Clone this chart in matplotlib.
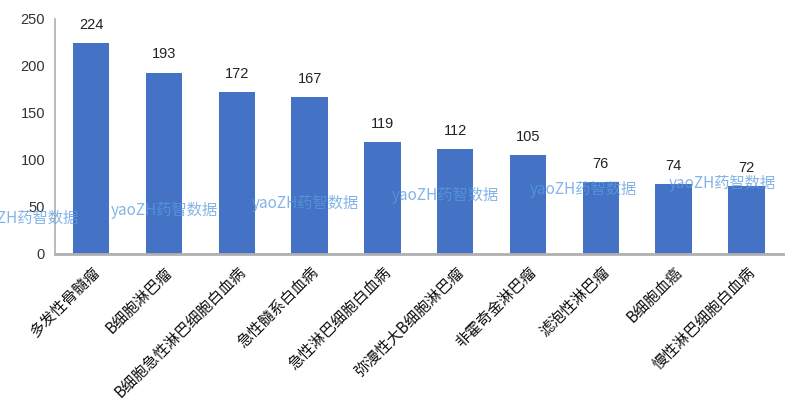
import matplotlib.pyplot as plt
import numpy as np

# data
categories = ['多发性骨髓瘤', 'B细胞淋巴瘤', 'B细胞急性淋巴细胞白血病', '急性髓系白血病',
              '急性淋巴细胞白血病', '弥漫性大B细胞淋巴瘤', '非霍奇金淋巴瘤', '滤泡性淋巴瘤',
              'B细胞血癌', '慢性淋巴细胞白血病']
counts = [224, 193, 172, 167, 119, 112, 105, 76, 74, 72]
yticks = [0, 50, 100, 150, 200, 250]

plt.rcParams['font.family'] = ['Liberation Sans', 'Noto Sans CJK SC', 'DejaVu Sans']

fig = plt.figure(figsize=(7.94, 4.03), dpi=100)
ax = fig.add_axes([0.069, 0.370, 0.917, 0.583])

x = np.arange(len(categories))
bars = ax.bar(x, counts, width=0.5, color='#4472C4')

# value labels above bars
for xi, v in zip(x, counts):
    ax.annotate(str(v), (xi, v), xytext=(0, 8), textcoords='offset points',
                ha='center', va='bottom', fontsize=10.5, color='#222222')

ax.set_xlim(-0.5, len(categories) - 0.5)
ax.set_ylim(0, 250)
ax.set_yticks(yticks)
ax.set_yticklabels([str(t) for t in yticks], fontsize=10.5, color='#333333')
ax.tick_params(axis='y', length=0, pad=7)
ax.tick_params(axis='x', length=0, pad=7)
ax.set_xticks(x)
ax.set_xticklabels(categories, rotation=45, ha='right', rotation_mode='anchor',
                   fontsize=11, color='#111111',
                   family=['Noto Sans CJK SC', 'DejaVu Sans'])

for s in ['top', 'right']:
    ax.spines[s].set_visible(False)
ax.spines['left'].set_color('#A9B4A4')
ax.spines['left'].set_linewidth(1.2)
ax.spines['bottom'].set_color('#B0B0B0')
ax.spines['bottom'].set_linewidth(2)

# watermarks
wm_pos = [(25, 218), (164, 210), (305, 203), (445, 195), (583, 189), (722, 183)]
for px, py in wm_pos:
    fig.text(px / 794, 1 - py / 403, 'yaoZH药智数据', ha='center', va='center',
             fontsize=11, color='#5B9BE0', alpha=0.75,
             family=['Noto Sans CJK SC', 'DejaVu Sans'])

fig.savefig('out.png', dpi=100)
